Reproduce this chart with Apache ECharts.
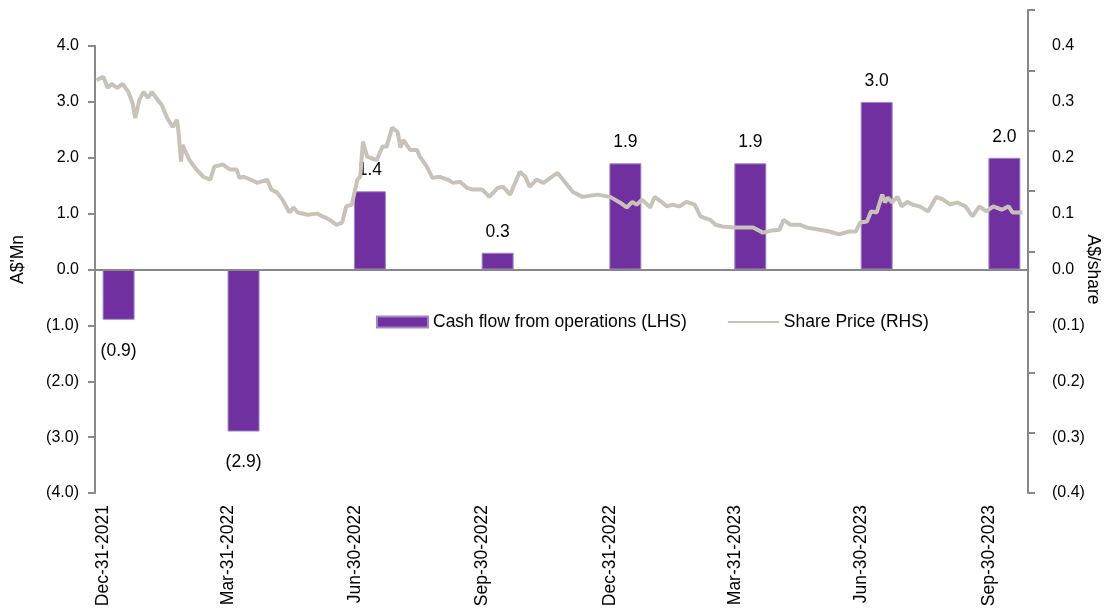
<!DOCTYPE html>
<html>
<head>
<meta charset="utf-8">
<title>Cash flow from operations vs share price</title>
<script src="https://cdn.jsdelivr.net/npm/echarts@6/dist/echarts.min.js"></script>
<style>
  html, body { margin: 0; padding: 0; background: #fff; }
  #chart { width: 1106px; height: 610px; }
</style>
</head>
<body>
<div id="chart"></div>
<script>
// quarterly cash flow (A$'Mn)
const quarterDates = ["2021-12-31", "2022-03-31", "2022-06-30", "2022-09-30", "2022-12-31", "2023-03-31", "2023-06-30", "2023-09-30"];
const quarterLabels = ["Dec-31-2021", "Mar-31-2022", "Jun-30-2022", "Sep-30-2022", "Dec-31-2022", "Mar-31-2023", "Jun-30-2023", "Sep-30-2023"];
const cashFlow = [-0.9, -2.9, 1.4, 0.3, 1.9, 1.9, 3.0, 2.0];

// share price (A$/share)
const priceDates = [
  "2021-12-15", "2021-12-20", "2021-12-23", "2021-12-26", "2021-12-30", "2022-01-03", "2022-01-07", "2022-01-10",
  "2022-01-12", "2022-01-15", "2022-01-18", "2022-01-21", "2022-01-24", "2022-01-28", "2022-01-31", "2022-02-04",
  "2022-02-08", "2022-02-11", "2022-02-12", "2022-02-14", "2022-02-15", "2022-02-20", "2022-02-25", "2022-03-02",
  "2022-03-07", "2022-03-10", "2022-03-16", "2022-03-21", "2022-03-26", "2022-03-28", "2022-03-31", "2022-04-05",
  "2022-04-10", "2022-04-17", "2022-04-20", "2022-04-24", "2022-04-28", "2022-05-03", "2022-05-06", "2022-05-09",
  "2022-05-16", "2022-05-23", "2022-05-27", "2022-06-01", "2022-06-06", "2022-06-10", "2022-06-13", "2022-06-17",
  "2022-06-21", "2022-06-23", "2022-06-25", "2022-06-28", "2022-06-30", "2022-07-05", "2022-07-09", "2022-07-12",
  "2022-07-16", "2022-07-20", "2022-07-22", "2022-07-24", "2022-07-29", "2022-08-03", "2022-08-05", "2022-08-10",
  "2022-08-14", "2022-08-19", "2022-08-25", "2022-08-29", "2022-09-03", "2022-09-08", "2022-09-12", "2022-09-19",
  "2022-09-24", "2022-09-30", "2022-10-04", "2022-10-09", "2022-10-16", "2022-10-20", "2022-10-23", "2022-10-28",
  "2022-11-02", "2022-11-07", "2022-11-12", "2022-11-16", "2022-11-23", "2022-11-30", "2022-12-11", "2022-12-20",
  "2022-12-27", "2023-01-01", "2023-01-05", "2023-01-08", "2023-01-12", "2023-01-18", "2023-01-21", "2023-01-26",
  "2023-01-30", "2023-02-03", "2023-02-08", "2023-02-13", "2023-02-19", "2023-02-23", "2023-03-02", "2023-03-06",
  "2023-03-11", "2023-03-19", "2023-03-26", "2023-04-02", "2023-04-09", "2023-04-16", "2023-04-21", "2023-04-24",
  "2023-04-29", "2023-05-06", "2023-05-11", "2023-05-20", "2023-05-27", "2023-06-03", "2023-06-10", "2023-06-15",
  "2023-06-18", "2023-06-23", "2023-06-26", "2023-06-30", "2023-07-04", "2023-07-06", "2023-07-08", "2023-07-11",
  "2023-07-15", "2023-07-18", "2023-07-22", "2023-07-26", "2023-07-31", "2023-08-06", "2023-08-12", "2023-08-17",
  "2023-08-22", "2023-08-27", "2023-09-02", "2023-09-07", "2023-09-12", "2023-09-17", "2023-09-22", "2023-09-28",
  "2023-10-03", "2023-10-06", "2023-10-11", "2023-10-13"
];
const priceValues = [
  0.339, 0.345, 0.325, 0.332, 0.325, 0.332, 0.318, 0.298,
  0.271, 0.304, 0.318, 0.307, 0.318, 0.304, 0.295, 0.271,
  0.255, 0.268, 0.250, 0.193, 0.223, 0.196, 0.179, 0.166,
  0.161, 0.184, 0.188, 0.179, 0.179, 0.164, 0.166, 0.161,
  0.155, 0.161, 0.143, 0.138, 0.125, 0.102, 0.111, 0.102,
  0.098, 0.100, 0.095, 0.089, 0.080, 0.084, 0.113, 0.116,
  0.161, 0.166, 0.229, 0.202, 0.200, 0.196, 0.220, 0.220,
  0.254, 0.246, 0.218, 0.232, 0.214, 0.214, 0.202, 0.184,
  0.164, 0.166, 0.161, 0.155, 0.157, 0.146, 0.143, 0.143,
  0.130, 0.146, 0.148, 0.134, 0.175, 0.166, 0.148, 0.161,
  0.155, 0.164, 0.173, 0.161, 0.139, 0.130, 0.134, 0.130,
  0.120, 0.111, 0.121, 0.116, 0.125, 0.111, 0.130, 0.121,
  0.113, 0.116, 0.113, 0.121, 0.116, 0.095, 0.089, 0.080,
  0.077, 0.075, 0.075, 0.075, 0.066, 0.070, 0.071, 0.089,
  0.080, 0.080, 0.075, 0.071, 0.068, 0.063, 0.068, 0.068,
  0.084, 0.086, 0.104, 0.102, 0.134, 0.120, 0.129, 0.120,
  0.130, 0.113, 0.121, 0.116, 0.113, 0.104, 0.130, 0.125,
  0.116, 0.120, 0.113, 0.095, 0.113, 0.104, 0.113, 0.107,
  0.113, 0.102, 0.102, 0.102
];

const axisStart = "2021-12-14";
const axisEnd = "2023-10-17";

const FONT = "Liberation Sans, Arial, sans-serif";
const AXIS_GREY = "#888888";
const LINE_COLOR = "#C9C2B9";

function toTime(s) {
  return new Date(s + "T00:00:00").getTime();
}

//负数用括号表示
function bracketFmt(v) {
  if (Math.abs(v) < 1e-9) return "0.0";
  return v < 0 ? "(" + Math.abs(v).toFixed(1) + ")" : v.toFixed(1);
}

const barData = quarterDates.map((d, i) => {
  const v = cashFlow[i];
  return {
    value: [toTime(d), v],
    label: { position: v < 0 ? "bottom" : "top", distance: v < 0 ? 22 : 12 }
  };
});

const lineData = priceDates.map((d, i) => [toTime(d), priceValues[i]]);
const labelTimes = quarterDates.map(toTime);

const axisLine = { show: true, onZero: false, lineStyle: { color: AXIS_GREY, width: 2 } };
const axisTick = { show: true, length: 7, lineStyle: { color: AXIS_GREY, width: 2 } };

const option = {
  backgroundColor: "#fff",
  animation: false,
  textStyle: { fontFamily: FONT },
  grid: [
    { left: 95, right: 78, top: 46, bottom: 117, outerBoundsMode: "none" },
    // 右轴线比绘图区更高(原图样式)
    { left: 95, right: 78, top: 10, bottom: 117, outerBoundsMode: "none" }
  ],
  legend: {
    left: 371,
    top: 308,
    itemWidth: 51,
    itemHeight: 11,
    itemGap: 40,
    textStyle: { fontFamily: FONT, fontSize: 17.5, color: "#000" },
    data: [
      { name: "Cash flow from operations (LHS)", icon: "rect" },
      { name: "Share Price (RHS)", itemStyle: { opacity: 0, borderWidth: 0 } }
    ]
  },
  // 时间轴用数值轴(时间戳), 便于自定义标签位置
  xAxis: [
    {
      type: "value",
      gridIndex: 0,
      min: toTime(axisStart),
      max: toTime(axisEnd),
      splitLine: { show: false },
      axisLine: { show: false },
      axisTick: { show: false },
      axisLabel: {
        customValues: labelTimes,
        rotate: 90,
        margin: 12,
        verticalAlign: "bottom",
        padding: [0, 0, 6, 0],
        fontFamily: FONT,
        fontSize: 17.5,
        color: "#000",
        formatter: function(value) {
          const i = labelTimes.indexOf(value);
          return i >= 0 ? quarterLabels[i] : "";
        }
      }
    },
    {
      type: "value",
      gridIndex: 1,
      min: 1,
      max: 2,
      show: false
    }
  ],
  yAxis: [
    {
      type: "value",
      position: "left",
      min: -4,
      max: 4,
      interval: 1,
      splitLine: { show: false },
      axisLine: axisLine,
      axisTick: axisTick,
      name: "A$'Mn",
      nameLocation: "middle",
      nameGap: 68,
      nameTextStyle: { fontFamily: FONT, fontSize: 17.5, color: "#000", padding: [0, 0, 0, 20] },
      axisLabel: { formatter: bracketFmt, margin: 16, fontFamily: FONT, fontSize: 16, color: "#000" }
    },
    {
      type: "value",
      position: "right",
      min: -0.4,
      max: 0.4,
      interval: 0.1,
      splitLine: { show: false },
      axisLine: { show: false },
      axisTick: { show: false },
      name: "A$/share",
      nameLocation: "middle",
      nameMoveOverlap: false,
      nameGap: 56,
      nameRotate: -90,
      nameTextStyle: { fontFamily: FONT, fontSize: 17.5, color: "#000" },
      axisLabel: { formatter: bracketFmt, margin: 24, fontFamily: FONT, fontSize: 16, color: "#000" }
    },
    // 只画右侧轴线和刻度
    {
      type: "value",
      gridIndex: 1,
      position: "right",
      min: 0,
      max: 8,
      interval: 1,
      splitLine: { show: false },
      axisLine: axisLine,
      axisTick: axisTick,
      axisLabel: { show: false }
    }
  ],
  series: [
    {
      name: "Cash flow from operations (LHS)",
      type: "bar",
      xAxisIndex: 0,
      yAxisIndex: 0,
      barWidth: 32,
      data: barData,
      itemStyle: { color: "#7030A0", borderColor: "#a287c4", borderWidth: 1 },
      label: {
        show: true,
        fontFamily: FONT,
        fontSize: 17.5,
        color: "#000",
        formatter: p => bracketFmt(p.value[1])
      },
      // 零轴线
      markLine: {
        silent: true,
        symbol: "none",
        label: { show: false },
        lineStyle: { color: AXIS_GREY, width: 2, type: "solid" },
        data: [{ yAxis: 0 }]
      },
      z: 2
    },
    {
      name: "Share Price (RHS)",
      type: "line",
      xAxisIndex: 0,
      yAxisIndex: 1,
      data: lineData,
      symbol: "none",
      showSymbol: false,
      lineStyle: { color: LINE_COLOR, width: 4 },
      itemStyle: { color: LINE_COLOR },
      z: 3
    }
  ]
};

const chart = echarts.init(document.getElementById("chart"), null, { renderer: "canvas" });
chart.setOption(option);
</script>
</body>
</html>
